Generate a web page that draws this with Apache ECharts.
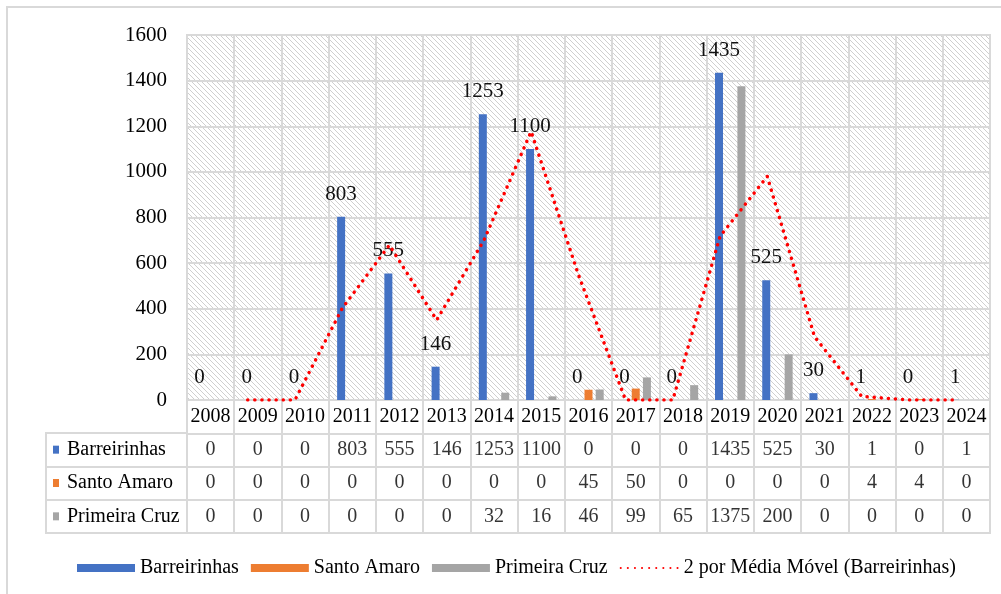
<!DOCTYPE html>
<html>
<head>
<meta charset="utf-8">
<script src="https://cdn.jsdelivr.net/npm/echarts@6/dist/echarts.min.js"></script>
<style>html,body{margin:0;padding:0;background:#fff}#c{width:1001px;height:594px}</style>
</head>
<body>
<div id="c"></div>
<script>
// ---- data ----
const years = ['2008','2009','2010','2011','2012','2013','2014','2015','2016','2017','2018','2019','2020','2021','2022','2023','2024'];
const barreirinhas = [0,0,0,803,555,146,1253,1100,0,0,0,1435,525,30,1,0,1];
const santoAmaro   = [0,0,0,0,0,0,0,0,45,50,0,0,0,0,4,4,0];
const primeiraCruz = [0,0,0,0,0,0,32,16,46,99,65,1375,200,0,0,0,0];
// 2-period moving average of Barreirinhas as drawn (starts at 2nd point)
const movingAvg = [null,0,0,401.5,679,350.5,699.5,1176.5,550,0,0,717.5,980,277.5,15.5,0.5,0.5];
const yTicks = [0,200,400,600,800,1000,1200,1400,1600];
const seriesNames = ['Barreirinhas','Santo Amaro','Primeira Cruz'];
const maName = '2 por Média Móvel (Barreirinhas)';

// ---- style ----
const colors = ['#4472c4','#ed7d31','#a5a5a5'];
const gridC = '#d9d9d9';
const FONT = "'Liberation Serif', 'Times New Roman', serif";
const LINE_SHIFT = -0.215; // trendline aligned with Barreirinhas bars

const tile = document.createElement('canvas');
tile.width = 5; tile.height = 5;
const tc = tile.getContext('2d');
tc.fillStyle = '#fff'; tc.fillRect(0,0,5,5);
tc.strokeStyle = '#cfcfcf'; tc.lineWidth = 1;
tc.beginPath();
tc.moveTo(-1,-1); tc.lineTo(6,6);
tc.moveTo(-6,-1); tc.lineTo(1,6);
tc.moveTo(4,-1); tc.lineTo(11,6);
tc.stroke();

const tableRows = [barreirinhas, santoAmaro, primeiraCruz];
const tableData = [];
tableRows.forEach((row, r) => row.forEach((v, i) => tableData.push([i, r + 1, v])));

const chart = echarts.init(document.getElementById('c'));
chart.setOption({
  animation: false,
  textStyle: { fontFamily: FONT },
  graphic: [{
    type: 'rect', shape: { x: 7, y: 7, width: 1020, height: 620 },
    style: { fill: 'none', stroke: gridC, lineWidth: 2 }, silent: true
  }],
  grid: [
    { left: 187, right: 11, top: 35, bottom: 194, show: true,
      backgroundColor: { image: tile, repeat: 'repeat' },
      borderColor: gridC, borderWidth: 2 },
    { left: 187, right: 11, top: 400, height: 133, show: true, borderColor: gridC, borderWidth: 2 },
    { left: 46, width: 141, top: 433, height: 100, show: true, borderColor: gridC, borderWidth: 2 }
  ],
  legend: {
    left: 72, top: 553,
    itemWidth: 58, itemHeight: 8, itemGap: 12,
    textStyle: { fontFamily: FONT, fontSize: 20, color: '#000' },
    data: [
      { name: seriesNames[0], icon: 'rect' },
      { name: seriesNames[1], icon: 'rect' },
      { name: seriesNames[2], icon: 'rect' },
      { name: maName, itemStyle: { opacity: 0 } }]
  },
  xAxis: [
    { type: 'category', gridIndex: 0, data: years,
      axisLine: { lineStyle: { color: gridC, width: 2 } },
      axisTick: { show: false },
      splitLine: { show: true, lineStyle: { color: gridC, width: 2 } },
      axisLabel: { fontFamily: FONT, fontSize: 20, color: '#000', margin: 7, interval: 0 } },
    { type: 'value', gridIndex: 0, min: -0.5, max: years.length - 0.5, show: false },
    { type: 'category', gridIndex: 1, data: years, axisLine: { show: false }, axisTick: { show: false },
      axisLabel: { show: false },
      splitLine: { show: true, lineStyle: { color: gridC, width: 2 } } },
    { type: 'value', gridIndex: 2, show: false, min: 0, max: 1 }
  ],
  yAxis: [
    { type: 'value', gridIndex: 0, min: 0, max: yTicks[yTicks.length-1], interval: 200,
      axisLine: { show: false }, axisTick: { show: false },
      splitLine: { lineStyle: { color: gridC, width: 2 } },
      axisLabel: { fontFamily: FONT, fontSize: 21, color: '#000', margin: 20, formatter: v => String(v) } },
    { type: 'category', gridIndex: 1, inverse: true, data: ['', ...seriesNames],
      axisLine: { show: false }, axisTick: { show: false }, axisLabel: { show: false },
      splitLine: { show: true, lineStyle: { color: gridC, width: 2 } } },
    { type: 'category', gridIndex: 2, inverse: true, data: seriesNames,
      axisLine: { show: false }, axisTick: { show: false },
      splitLine: { show: true, lineStyle: { color: gridC, width: 2 } },
      axisLabel: {
        inside: true, margin: 7, align: 'left',
        formatter: (v, i) => '{m' + i + '| }{t|' + v + '}',
        rich: {
          m0: { backgroundColor: colors[0], width: 6, height: 8 },
          m1: { backgroundColor: colors[1], width: 6, height: 8 },
          m2: { backgroundColor: colors[2], width: 6, height: 8 },
          t: { fontFamily: FONT, fontSize: 20, color: '#000', padding: [0,0,0,8] }
        }
      } }
  ],
  series: [
    { name: seriesNames[0], type: 'bar', xAxisIndex: 0, yAxisIndex: 0, data: barreirinhas,
      barWidth: 8, barGap: '40%', itemStyle: { color: colors[0] },
      label: { show: true, position: 'top', distance: 12, fontFamily: FONT, fontSize: 21, color: '#111' } },
    { name: seriesNames[1], type: 'bar', xAxisIndex: 0, yAxisIndex: 0, data: santoAmaro,
      barWidth: 8, barGap: '40%', itemStyle: { color: colors[1] } },
    { name: seriesNames[2], type: 'bar', xAxisIndex: 0, yAxisIndex: 0, data: primeiraCruz,
      barWidth: 8, barGap: '40%', itemStyle: { color: colors[2] } },
    { name: maName, type: 'line', xAxisIndex: 1, yAxisIndex: 0, z: 5,
      data: movingAvg.map((v, i) => v === null ? null : [i + LINE_SHIFT, v]).filter(d => d !== null),
      symbol: 'none', showSymbol: false, itemStyle: { color: '#ff0000' },
      lineStyle: { color: '#ff0000', width: 3.5, type: [0.1, 7], cap: 'round' } },
    { type: 'scatter', xAxisIndex: 2, yAxisIndex: 1, data: tableData, symbolSize: 1,
      itemStyle: { color: 'rgba(0,0,0,0)' }, silent: true,
      label: { show: true, position: 'inside', formatter: p => String(p.data[2]),
        fontFamily: FONT, fontSize: 20, color: '#000' } }
  ]
});
</script>
</body>
</html>
